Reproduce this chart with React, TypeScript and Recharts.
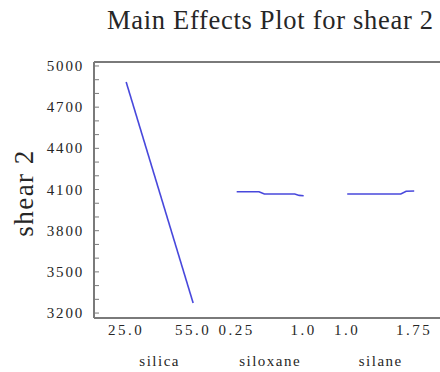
import React from 'react';
import { LineChart, Line, XAxis, YAxis, ReferenceLine } from 'recharts';

// factor names and their levels / mean response
const factorNames = ['silica', 'siloxane', 'silane'];

const silicaLevels = [25, 55];
const silicaMeans = [4884, 3274];

const siloxaneLevels = [0.25, 0.5, 0.56, 0.9, 0.95, 1.0];
const siloxaneMeans = [4084, 4084, 4067, 4067, 4057, 4055];

const silaneLevels = [1.0, 1.6, 1.66, 1.75];
const silaneMeans = [4067, 4067, 4087, 4089];

const levelTickLabels = [
  ['25.0', '55.0'],
  ['0.25', '1.0'],
  ['1.0', '1.75'],
];

const yTickValues = [3200, 3300, 3400, 3500, 3600, 3700, 3800, 3900, 4000, 4100, 4200, 4300, 4400, 4500, 4600, 4700, 4800, 4900, 5000];
const yLabelStep = 300;
const yDomain = [3164, 5029];

// each factor occupies one unit on a shared x axis, separated by a gap
const groupStarts = [0, 1.65, 3.3];

const toSeries = (levels: number[], means: number[], g: number) =>
  levels.map((lv, i) => ({
    x: groupStarts[g] + (lv - levels[0]) / (levels[levels.length - 1] - levels[0]),
    y: means[i],
  }));

const silicaData = toSeries(silicaLevels, silicaMeans, 0);
const siloxaneData = toSeries(siloxaneLevels, siloxaneMeans, 1);
const silaneData = toSeries(silaneLevels, silaneMeans, 2);

type XTickItem = { pos: number; label: string; kind: 'level' | 'name' };
const xTickItems: XTickItem[] = [];
factorNames.forEach((name, g) => {
  xTickItems.push({ pos: groupStarts[g], label: levelTickLabels[g][0], kind: 'level' });
  xTickItems.push({ pos: groupStarts[g] + 0.5, label: name, kind: 'name' });
  xTickItems.push({ pos: groupStarts[g] + 1, label: levelTickLabels[g][1], kind: 'level' });
});

const FONT = '"Liberation Serif", serif';
const FRAME = '#7a7a7a';
const TEXT = '#262626';
const LINE = '#4848dc';

const YTick = ({ x, y, payload }: any) => {
  const v = payload.value;
  const major = (v - yTickValues[0]) % yLabelStep === 0;
  return (
    <g>
      <line x1={x} x2={x + 5} y1={y} y2={y} stroke={FRAME} strokeWidth={1} />
      {major && (
        <text x={x - 10} y={y} dy={5} textAnchor="end" fontFamily={FONT} fontSize={15} letterSpacing={1.8} fill={TEXT}>
          {v}
        </text>
      )}
    </g>
  );
};

const XTick = ({ x, y, payload }: any) => {
  const item = xTickItems.find((t) => Math.abs(t.pos - payload.value) < 1e-6);
  if (!item) return null;
  const isName = item.kind === 'name';
  return (
    <text
      x={x}
      y={y}
      dy={isName ? 48 : 17}
      textAnchor="middle"
      fontFamily={FONT}
      fontSize={15}
      letterSpacing={isName ? 1.5 : 2.5}
      fill={TEXT}
    >
      {item.label}
    </text>
  );
};

export default function App() {
  return (
    <div style={{ position: 'absolute', left: 0, top: 0, width: 440, height: 372, overflow: 'hidden', background: '#fff' }}>
      <LineChart width={450} height={372} margin={{ top: 62, right: 9, bottom: 0, left: 0 }}>
        <XAxis
          type="number"
          dataKey="x"
          domain={[-0.48, 4.7]}
          allowDataOverflow
          ticks={xTickItems.map((t) => t.pos)}
          interval={0}
          height={54}
          tickSize={0}
          tickMargin={0}
          tickLine={false}
          axisLine={{ stroke: FRAME, strokeWidth: 2 }}
          tick={<XTick />}
        />
        <YAxis
          type="number"
          domain={yDomain}
          allowDataOverflow
          ticks={yTickValues}
          interval={0}
          width={94}
          tickSize={0}
          tickMargin={0}
          tickLine={false}
          axisLine={{ stroke: FRAME, strokeWidth: 2 }}
          tick={<YTick />}
        />
        <ReferenceLine y={yDomain[1]} stroke={FRAME} strokeWidth={2} ifOverflow="visible" />
        <Line data={silicaData} dataKey="y" stroke={LINE} strokeWidth={1.6} dot={false} isAnimationActive={false} />
        <Line data={siloxaneData} dataKey="y" stroke={LINE} strokeWidth={1.6} dot={false} isAnimationActive={false} />
        <Line data={silaneData} dataKey="y" stroke={LINE} strokeWidth={1.6} dot={false} isAnimationActive={false} />
      </LineChart>
      <svg width={440} height={372} style={{ position: 'absolute', left: 0, top: 0, pointerEvents: 'none' }}>
        <text x={107} y={29} fontFamily={FONT} fontSize={26.5} letterSpacing={0.7} fill={TEXT}>
          Main Effects Plot for shear 2
        </text>
        <text
          x={0}
          y={0}
          transform="translate(33,193) rotate(-90)"
          textAnchor="middle"
          fontFamily={FONT}
          fontSize={27}
          letterSpacing={1.5}
          fill={TEXT}
        >
          shear 2
        </text>
      </svg>
    </div>
  );
}
